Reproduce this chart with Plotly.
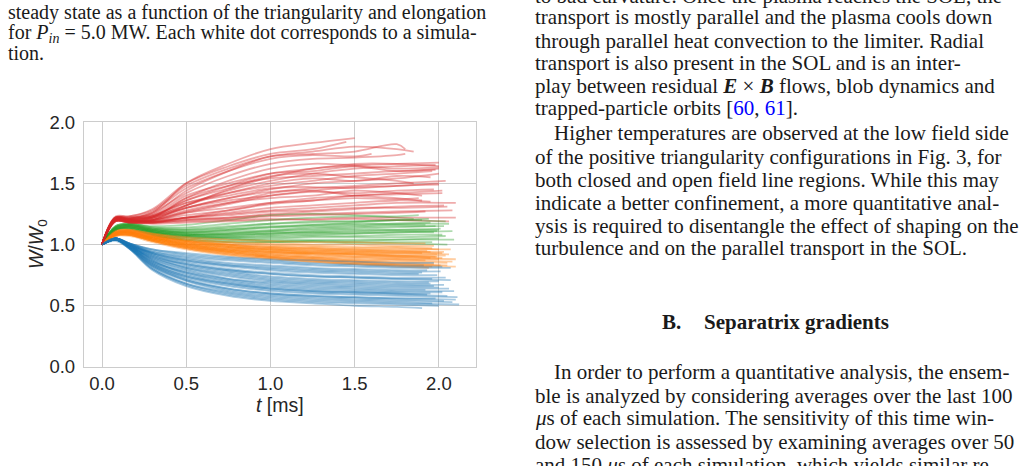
import plotly.graph_objects as go

W, H = 1028, 466

# ---------------- data ----------------
T_KNOTS = [0.0, 0.08, 0.16, 0.3, 0.5, 0.75, 1.0, 1.25, 1.5, 1.75]

blue_end = [1.90, 2.12, 2.08, 2.10, 1.98, 2.05, 1.95, 2.02, 1.92, 2.06, 1.97, 2.03,
            1.94, 2.00, 1.96, 2.04, 1.99, 1.88, 2.01, 1.93, 2.07, 1.91, 1.97, 2.09,
            2.00, 1.96, 2.03, 2.11, 1.93, 2.00, 1.95, 2.07, 1.90, 2.02]
blue_w = [
    [1.0, 1.04, 0.97, 0.79, 0.66, 0.58, 0.54, 0.52, 0.50, 0.49, 0.48],
    [1.0, 1.05, 0.98, 0.81, 0.68, 0.60, 0.56, 0.54, 0.53, 0.52, 0.51],
    [1.0, 1.04, 0.98, 0.82, 0.70, 0.62, 0.58, 0.56, 0.55, 0.54, 0.53],
    [1.0, 1.05, 0.99, 0.84, 0.72, 0.64, 0.60, 0.58, 0.57, 0.56, 0.55],
    [1.0, 1.04, 0.97, 0.82, 0.71, 0.64, 0.60, 0.58, 0.57, 0.56, 0.56],
    [1.0, 1.05, 0.99, 0.85, 0.74, 0.67, 0.63, 0.61, 0.60, 0.59, 0.58],
    [1.0, 1.03, 0.97, 0.84, 0.74, 0.68, 0.64, 0.62, 0.61, 0.60, 0.60],
    [1.0, 1.05, 1.00, 0.87, 0.76, 0.69, 0.65, 0.63, 0.62, 0.61, 0.61],
    [1.0, 1.04, 0.98, 0.86, 0.77, 0.71, 0.67, 0.65, 0.64, 0.63, 0.63],
    [1.0, 1.05, 1.00, 0.88, 0.79, 0.72, 0.68, 0.66, 0.65, 0.64, 0.64],
    [1.0, 1.04, 0.99, 0.88, 0.80, 0.74, 0.70, 0.68, 0.67, 0.66, 0.66],
    [1.0, 1.05, 1.00, 0.90, 0.81, 0.75, 0.71, 0.69, 0.68, 0.67, 0.67],
    [1.0, 1.04, 0.99, 0.89, 0.82, 0.77, 0.73, 0.71, 0.70, 0.69, 0.69],
    [1.0, 1.05, 1.00, 0.91, 0.83, 0.78, 0.74, 0.72, 0.71, 0.70, 0.70],
    [1.0, 1.04, 0.99, 0.90, 0.84, 0.79, 0.76, 0.74, 0.73, 0.72, 0.72],
    [1.0, 1.05, 1.01, 0.92, 0.85, 0.80, 0.77, 0.75, 0.74, 0.73, 0.73],
    [1.0, 1.04, 1.00, 0.92, 0.86, 0.82, 0.79, 0.77, 0.76, 0.75, 0.75],
    [1.0, 1.05, 1.00, 0.93, 0.87, 0.83, 0.80, 0.78, 0.77, 0.76, 0.76],
    [1.0, 1.04, 1.00, 0.93, 0.88, 0.84, 0.82, 0.80, 0.79, 0.78, 0.78],
    [1.0, 1.05, 1.01, 0.94, 0.89, 0.85, 0.83, 0.81, 0.80, 0.79, 0.79],
    [1.0, 1.04, 1.00, 0.94, 0.90, 0.87, 0.85, 0.83, 0.82, 0.81, 0.81],
    [1.0, 1.05, 1.01, 0.96, 0.92, 0.89, 0.87, 0.85, 0.84, 0.83, 0.83],
    [1.0, 1.04, 1.01, 0.96, 0.93, 0.90, 0.88, 0.87, 0.86, 0.85, 0.85],
    [1.0, 1.05, 0.99, 0.86, 0.77, 0.70, 0.66, 0.64, 0.63, 0.62, 0.62],
    [1.0, 1.05, 0.98, 0.80, 0.67, 0.59, 0.55, 0.53, 0.52, 0.51, 0.50],
    [1.0, 1.04, 0.97, 0.80, 0.68, 0.61, 0.57, 0.55, 0.54, 0.53, 0.52],
    [1.0, 1.05, 0.99, 0.83, 0.71, 0.63, 0.59, 0.57, 0.56, 0.55, 0.54],
    [1.0, 1.04, 0.98, 0.83, 0.73, 0.66, 0.62, 0.60, 0.59, 0.58, 0.57],
    [1.0, 1.05, 0.99, 0.85, 0.75, 0.68, 0.64, 0.62, 0.61, 0.60, 0.59],
    [1.0, 1.04, 0.99, 0.87, 0.78, 0.72, 0.69, 0.67, 0.66, 0.65, 0.65],
    [1.0, 1.05, 1.00, 0.89, 0.81, 0.76, 0.72, 0.70, 0.69, 0.68, 0.68],
    [1.0, 1.04, 1.00, 0.91, 0.84, 0.79, 0.76, 0.74, 0.73, 0.72, 0.71],
    [1.0, 1.05, 1.01, 0.93, 0.87, 0.83, 0.81, 0.79, 0.78, 0.77, 0.77],
    [1.0, 1.04, 1.01, 0.95, 0.91, 0.88, 0.86, 0.84, 0.83, 0.82, 0.82],
]

orange_end = [2.05, 1.98, 2.10, 1.95, 2.02, 1.92, 2.00, 1.97, 2.06, 1.90,
              1.94, 2.04, 1.96, 2.00, 1.99, 2.08, 2.03, 1.93, 2.01, 1.95,
              1.97, 2.05, 2.10, 1.92, 1.99, 2.02, 1.96, 2.07]
orange_w = [
    [1.0, 1.08, 1.09, 1.04, 0.98, 0.94, 0.91, 0.89, 0.87, 0.86, 0.85],
    [1.0, 1.09, 1.10, 1.06, 1.01, 0.97, 0.95, 0.93, 0.92, 0.91, 0.90],
    [1.0, 1.07, 1.08, 1.03, 0.97, 0.92, 0.89, 0.87, 0.85, 0.83, 0.82],
    [1.0, 1.10, 1.11, 1.07, 1.03, 1.00, 0.98, 0.97, 0.96, 0.95, 0.94],
    [1.0, 1.08, 1.09, 1.05, 1.00, 0.96, 0.93, 0.92, 0.91, 0.90, 0.89],
    [1.0, 1.09, 1.10, 1.05, 0.99, 0.95, 0.92, 0.90, 0.88, 0.88, 0.87],
    [1.0, 1.11, 1.12, 1.08, 1.04, 1.01, 0.99, 0.98, 0.97, 0.97, 0.96],
    [1.0, 1.08, 1.08, 1.03, 0.98, 0.93, 0.90, 0.88, 0.86, 0.85, 0.84],
    [1.0, 1.09, 1.10, 1.06, 1.02, 0.98, 0.96, 0.94, 0.93, 0.93, 0.92],
    [1.0, 1.10, 1.11, 1.07, 1.02, 0.99, 0.96, 0.95, 0.94, 0.93, 0.93],
    [1.0, 1.07, 1.07, 1.02, 0.96, 0.91, 0.88, 0.86, 0.84, 0.82, 0.81],
    [1.0, 1.09, 1.10, 1.06, 1.01, 0.97, 0.94, 0.93, 0.92, 0.91, 0.91],
    [1.0, 1.11, 1.12, 1.09, 1.05, 1.02, 1.00, 0.99, 0.98, 0.98, 0.97],
    [1.0, 1.08, 1.09, 1.04, 0.99, 0.95, 0.92, 0.90, 0.89, 0.88, 0.88],
    [1.0, 1.10, 1.10, 1.06, 1.01, 0.98, 0.95, 0.94, 0.93, 0.92, 0.92],
    [1.0, 1.08, 1.08, 1.04, 0.98, 0.94, 0.91, 0.89, 0.87, 0.87, 0.86],
    [1.0, 1.09, 1.11, 1.07, 1.03, 1.00, 0.97, 0.96, 0.95, 0.94, 0.94],
    [1.0, 1.10, 1.11, 1.08, 1.03, 0.99, 0.97, 0.96, 0.95, 0.95, 0.95],
    [1.0, 1.07, 1.08, 1.03, 0.97, 0.93, 0.90, 0.88, 0.86, 0.84, 0.83],
    [1.0, 1.09, 1.10, 1.05, 1.00, 0.96, 0.94, 0.92, 0.90, 0.90, 0.89],
    [1.0, 1.10, 1.12, 1.08, 1.04, 1.02, 1.01, 1.00, 1.00, 0.99, 0.99],
    [1.0, 1.08, 1.09, 1.04, 0.99, 0.94, 0.90, 0.87, 0.85, 0.84, 0.83],
    [1.0, 1.09, 1.10, 1.05, 1.00, 0.95, 0.93, 0.91, 0.90, 0.89, 0.88],
    [1.0, 1.11, 1.12, 1.09, 1.06, 1.04, 1.03, 1.02, 1.02, 1.01, 1.01],
    [1.0, 1.08, 1.09, 1.05, 1.00, 0.96, 0.94, 0.93, 0.92, 0.91, 0.90],
    [1.0, 1.09, 1.11, 1.07, 1.02, 0.98, 0.96, 0.95, 0.94, 0.94, 0.93],
    [1.0, 1.07, 1.08, 1.03, 0.97, 0.92, 0.89, 0.86, 0.84, 0.83, 0.82],
    [1.0, 1.10, 1.11, 1.07, 1.03, 1.00, 0.98, 0.97, 0.96, 0.96, 0.96],
]

green_end = [1.98, 2.02, 1.95, 2.05, 2.00, 1.92, 2.09, 1.97, 1.90, 2.04,
             2.01, 1.96, 2.06, 1.99, 1.85, 1.94, 2.03, 2.08, 1.88, 2.00, 2.04]
green_w = [
    [1.0, 1.13, 1.15, 1.12, 1.10, 1.10, 1.11, 1.12, 1.13, 1.14, 1.15],
    [1.0, 1.12, 1.14, 1.10, 1.07, 1.06, 1.06, 1.07, 1.07, 1.08, 1.08],
    [1.0, 1.14, 1.16, 1.13, 1.12, 1.13, 1.15, 1.16, 1.17, 1.17, 1.18],
    [1.0, 1.12, 1.13, 1.09, 1.05, 1.03, 1.02, 1.02, 1.01, 1.01, 1.00],
    [1.0, 1.13, 1.15, 1.11, 1.09, 1.09, 1.10, 1.10, 1.11, 1.12, 1.12],
    [1.0, 1.14, 1.16, 1.12, 1.10, 1.11, 1.12, 1.14, 1.15, 1.16, 1.16],
    [1.0, 1.12, 1.14, 1.10, 1.06, 1.04, 1.04, 1.04, 1.04, 1.04, 1.04],
    [1.0, 1.13, 1.15, 1.11, 1.08, 1.07, 1.08, 1.09, 1.09, 1.10, 1.10],
    [1.0, 1.15, 1.17, 1.14, 1.13, 1.15, 1.17, 1.18, 1.19, 1.20, 1.20],
    [1.0, 1.12, 1.13, 1.09, 1.06, 1.05, 1.05, 1.06, 1.06, 1.06, 1.07],
    [1.0, 1.13, 1.15, 1.12, 1.09, 1.08, 1.09, 1.11, 1.12, 1.12, 1.13],
    [1.0, 1.12, 1.14, 1.10, 1.07, 1.05, 1.03, 1.03, 1.02, 1.02, 1.02],
    [1.0, 1.14, 1.16, 1.13, 1.11, 1.12, 1.14, 1.15, 1.16, 1.17, 1.17],
    [1.0, 1.13, 1.14, 1.11, 1.08, 1.08, 1.09, 1.10, 1.10, 1.11, 1.11],
    [1.0, 1.15, 1.17, 1.15, 1.16, 1.20, 1.24, 1.25, 1.24, 1.22, 1.21],
    [1.0, 1.14, 1.16, 1.12, 1.10, 1.12, 1.14, 1.16, 1.18, 1.20, 1.21],
    [1.0, 1.13, 1.15, 1.11, 1.08, 1.09, 1.11, 1.13, 1.14, 1.15, 1.15],
    [1.0, 1.12, 1.14, 1.10, 1.07, 1.06, 1.07, 1.08, 1.09, 1.10, 1.11],
    [1.0, 1.15, 1.17, 1.14, 1.14, 1.17, 1.20, 1.22, 1.23, 1.23, 1.24],
    [1.0, 1.12, 1.13, 1.08, 1.04, 1.02, 1.02, 1.03, 1.03, 1.04, 1.05],
    [1.0, 1.14, 1.16, 1.13, 1.12, 1.14, 1.17, 1.19, 1.19, 1.20, 1.19],
]

red_end = [1.50, 1.80, 2.00, 2.00, 1.98, 1.95, 2.00, 1.85, 2.00, 1.90, 2.02, 1.95,
           2.05, 2.08, 2.10, 1.92, 2.06, 2.00, 1.97, 2.00, 1.88, 2.03, 1.60,
           1.85, 1.80, 2.00, 1.45, 1.96, 2.04, 1.98, 2.02, 2.10, 1.90]
red_w = [
    [1.0, 1.20, 1.21, 1.26, 1.50, 1.66, 1.78, 1.83, 1.87],
    [1.0, 1.21, 1.22, 1.25, 1.44, 1.60, 1.72, 1.74, 1.76, 1.82, 1.78],
    [1.0, 1.20, 1.19, 1.22, 1.38, 1.52, 1.62, 1.66, 1.65, 1.66, 1.67],
    [1.0, 1.22, 1.21, 1.24, 1.40, 1.50, 1.58, 1.60, 1.64, 1.62, 1.63],
    [1.0, 1.19, 1.18, 1.20, 1.32, 1.44, 1.52, 1.58, 1.62, 1.64, 1.65],
    [1.0, 1.21, 1.20, 1.22, 1.34, 1.42, 1.50, 1.54, 1.52, 1.56, 1.55],
    [1.0, 1.20, 1.19, 1.21, 1.30, 1.38, 1.45, 1.50, 1.52, 1.54, 1.58],
    [1.0, 1.22, 1.21, 1.23, 1.36, 1.46, 1.56, 1.58, 1.55, 1.52, 1.50],
    [1.0, 1.19, 1.18, 1.19, 1.26, 1.33, 1.40, 1.44, 1.47, 1.48, 1.50],
    [1.0, 1.20, 1.19, 1.20, 1.28, 1.34, 1.38, 1.40, 1.44, 1.42, 1.40],
    [1.0, 1.21, 1.20, 1.20, 1.24, 1.28, 1.33, 1.36, 1.40, 1.41, 1.42],
    [1.0, 1.19, 1.18, 1.18, 1.22, 1.26, 1.30, 1.32, 1.34, 1.36, 1.35],
    [1.0, 1.20, 1.19, 1.19, 1.22, 1.24, 1.27, 1.28, 1.30, 1.30, 1.31],
    [1.0, 1.21, 1.20, 1.19, 1.21, 1.22, 1.24, 1.25, 1.26, 1.27, 1.28],
    [1.0, 1.19, 1.18, 1.17, 1.18, 1.19, 1.20, 1.21, 1.22, 1.22, 1.22],
    [1.0, 1.20, 1.19, 1.18, 1.20, 1.21, 1.23, 1.24, 1.25, 1.26, 1.27],
    [1.0, 1.21, 1.20, 1.18, 1.19, 1.20, 1.21, 1.20, 1.21, 1.20, 1.19],
    [1.0, 1.22, 1.22, 1.24, 1.34, 1.40, 1.46, 1.47, 1.46, 1.48, 1.49],
    [1.0, 1.20, 1.20, 1.22, 1.30, 1.36, 1.40, 1.43, 1.42, 1.44, 1.45],
    [1.0, 1.21, 1.21, 1.23, 1.32, 1.45, 1.55, 1.62, 1.64, 1.60, 1.62],
    [1.0, 1.20, 1.19, 1.20, 1.26, 1.30, 1.34, 1.36, 1.38, 1.37, 1.38],
    [1.0, 1.19, 1.18, 1.18, 1.20, 1.22, 1.25, 1.27, 1.29, 1.31, 1.32],
    [1.0, 1.22, 1.22, 1.27, 1.46, 1.60, 1.70, 1.73, 1.72, 1.74],
    [1.0, 1.22, 1.23, 1.28, 1.48, 1.62, 1.72, 1.76, 1.80, 1.78, 1.76],
    [1.0, 1.21, 1.21, 1.26, 1.42, 1.56, 1.66, 1.70, 1.71, 1.73, 1.74],
    [1.0, 1.20, 1.20, 1.23, 1.36, 1.48, 1.58, 1.62, 1.66, 1.66, 1.64],
    [1.0, 1.23, 1.23, 1.29, 1.50, 1.64, 1.74, 1.78, 1.84],
    [1.0, 1.21, 1.20, 1.22, 1.32, 1.42, 1.48, 1.52, 1.56, 1.58, 1.60],
    [1.0, 1.20, 1.19, 1.20, 1.27, 1.34, 1.42, 1.46, 1.48, 1.50, 1.52],
    [1.0, 1.22, 1.21, 1.23, 1.38, 1.48, 1.54, 1.56, 1.58, 1.60, 1.61],
    [1.0, 1.19, 1.18, 1.18, 1.22, 1.28, 1.34, 1.38, 1.40, 1.42, 1.44],
    [1.0, 1.21, 1.20, 1.19, 1.22, 1.25, 1.28, 1.30, 1.32, 1.34, 1.34],
    [1.0, 1.20, 1.19, 1.21, 1.30, 1.38, 1.43, 1.44, 1.40, 1.38, 1.36],
]

x_ticks = [0.0, 0.5, 1.0, 1.5, 2.0]
y_ticks = [0.0, 0.5, 1.0, 1.5, 2.0]

groups = [
    ("#1f77b4", blue_end, blue_w),
    ("#ff7f0e", orange_end, orange_w),
    ("#2ca02c", green_end, green_w),
    ("#d62728", red_end, red_w),
]

# ---------------- figure ----------------
fig = go.Figure()


def knots(end):
    return [t for t in T_KNOTS if t < end - 0.02] + [end]


nmax = max(len(g[2]) for g in groups)
for i in range(nmax):
    for color, ends, ws in groups:
        if i < len(ws):
            xs = knots(ends[i])
            ys = ws[i]
            n = min(len(xs), len(ys))
            fig.add_trace(go.Scatter(
                x=xs[:n], y=ys[:n], mode="lines",
                line=dict(color=color, width=1.8, shape="spline", smoothing=1.0),
                opacity=0.38, showlegend=False, hoverinfo="skip"))

# The captured page shows the figure slightly squeezed vertically
# (screen_y ~= 0.956 * fig_y + 10.7); positions below are given in target
# screen pixels and converted back to figure pixels.
SY_A, SY_B = 0.956, 10.7


def fy(screen_y):
    return (screen_y - SY_B) / SY_A


def px(x):
    return x / W


def py(screen_y):
    return 1 - fy(screen_y) / H


L, R, T, B = 84, 476, 122, 367
grid = "#cccccc"
tick_font = dict(family="Liberation Sans", size=18.5, color="#262626")

fig.update_layout(
    width=W, height=H, margin=dict(l=0, r=0, t=0, b=0),
    paper_bgcolor="white", plot_bgcolor="white",
    xaxis=dict(domain=[px(L), px(R)], range=[-0.107, 2.22], tickvals=x_ticks,
               ticktext=[f"{v:.1f}" for v in x_ticks], showgrid=True,
               gridcolor=grid, gridwidth=1, zeroline=False, showline=True,
               linecolor=grid, linewidth=1.3, mirror=True, ticks="",
               tickfont=tick_font, ticklabelstandoff=0),
    yaxis=dict(domain=[py(B), py(T)], range=[0, 2.0], tickvals=y_ticks,
               ticktext=[f"{v:.1f}" for v in y_ticks], showgrid=True,
               gridcolor=grid, gridwidth=1, zeroline=False, showline=True,
               linecolor=grid, linewidth=1.3, mirror=True, ticks="",
               tickfont=tick_font, ticklabelstandoff=4),
)

ann = []
# axis titles
ann.append(dict(x=px(280), y=py(405), text="<i>t</i> [ms]", showarrow=False,
                xref="paper", yref="paper", xanchor="center", yanchor="middle",
                font=dict(family="Liberation Sans", size=19.5, color="#262626")))
ann.append(dict(x=px(37), y=py(244), text="<i>W</i>/<i>W</i><sub>0</sub>",
                showarrow=False, textangle=-90,
                xref="paper", yref="paper", xanchor="center", yanchor="middle",
                font=dict(family="Liberation Sans", size=19.5, color="#262626")))

serif = "Liberation Serif"
cap_size = 20
body_size = 21
txt = "#1a1a1a"


def line(x, y, s, size, anchor="left"):
    ann.append(dict(x=px(x), y=py(y), text=s, showarrow=False, xref="paper",
                    yref="paper", xanchor=anchor, yanchor="middle",
                    font=dict(family=serif, size=size, color=txt)))


# left caption
line(6, 12, "steady state as a function of the triangularity and elongation", cap_size)
line(6, 33, "for <i>P</i><sub><i>in</i></sub> = 5.0 MW. Each white dot corresponds to a simula-", cap_size)
line(6, 53, "tion.", cap_size)

# right column
blue = '<span style="color:#0000ff">'
rc = [
    (533, -4, "to bad curvature. Once the plasma reaches the SOL, the"),
    (533, 17, "transport is mostly parallel and the plasma cools down"),
    (533, 41, "through parallel heat convection to the limiter. Radial"),
    (533, 63, "transport is also present in the SOL and is an inter-"),
    (533, 86, "play between residual <b><i>E</i></b> × <b><i>B</i></b> flows, blob dynamics and"),
    (533, 108, "trapped-particle orbits [" + blue + "60</span>, " + blue + "61</span>]."),
    (552, 133, "Higher temperatures are observed at the low field side"),
    (533, 157, "of the positive triangularity configurations in Fig. 3, for"),
    (533, 180, "both closed and open field line regions. While this may"),
    (533, 203, "indicate a better confinement, a more quantitative anal-"),
    (533, 226, "ysis is required to disentangle the effect of shaping on the"),
    (533, 248, "turbulence and on the parallel transport in the SOL."),
    (552, 372, "In order to perform a quantitative analysis, the ensem-"),
    (533, 396, "ble is analyzed by considering averages over the last 100"),
    (533, 418, "<i>μ</i>s of each simulation. The sensitivity of this time win-"),
    (533, 442, "dow selection is assessed by examining averages over 50"),
    (533, 465, "and 150 <i>μ</i>s of each simulation, which yields similar re-"),
]
for x, y, s in rc:
    line(x, y, s, body_size)

line(660, 322, "<b>B.</b>", body_size)
line(702, 322, "<b>Separatrix gradients</b>", body_size)

fig.update_layout(annotations=ann)
fig.write_html("out.html")
